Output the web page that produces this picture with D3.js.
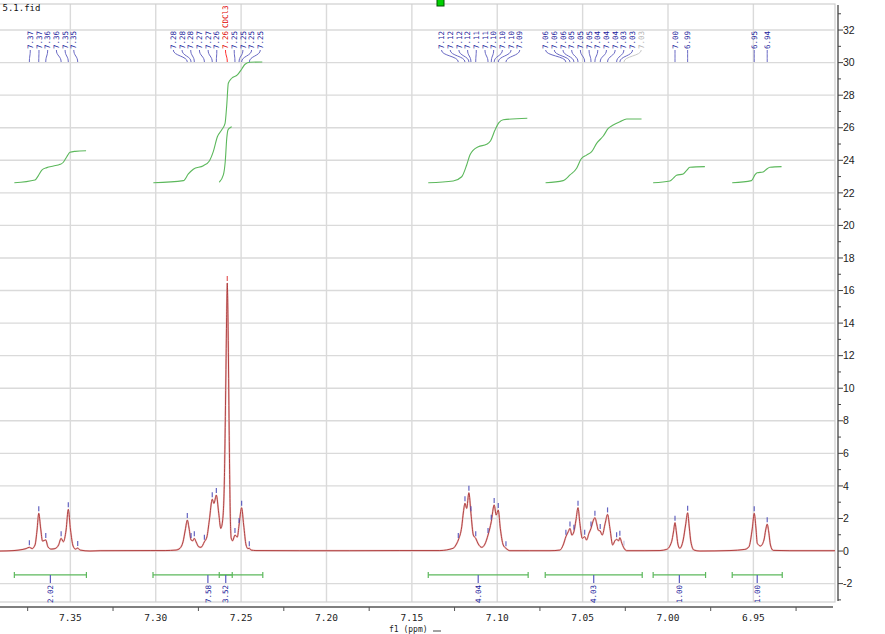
<!DOCTYPE html>
<html><head><meta charset="utf-8">
<script src="https://cdn.jsdelivr.net/npm/d3@7"></script>
<style>body{margin:0;background:#fff;overflow:hidden}svg{display:block}</style>
</head><body><svg id="c" width="885" height="634"></svg>
<script>
// ---- DATA ----
const fileName = "5.1.fid";
const xTickLabels = [7.35, 7.30, 7.25, 7.20, 7.15, 7.10, 7.05, 7.00, 6.95];
const xMinorTicks = [7.375, 7.325, 7.275, 7.225, 7.175, 7.125, 7.075, 7.025, 6.975, 6.925];
const yTickLabels = [-2, 0, 2, 4, 6, 8, 10, 12, 14, 16, 18, 20, 22, 24, 26, 28, 30, 32];
const yMinorTicks = [-3, -1, 1, 3, 5, 7, 9, 11, 13, 15, 17, 19, 21, 23, 25, 27, 29, 31, 33];

// spectrum: [ppm, intensity]
const spectrum = [[7.3912,0.0],[7.383,0.03],[7.3783,0.09],[7.3759,0.15],[7.374,0.23],[7.3724,0.15],[7.3707,0.37],[7.3695,1.29],[7.3685,2.32],[7.3674,1.41],[7.3663,0.61],[7.3644,0.68],[7.3631,0.25],[7.3613,0.12],[7.359,0.15],[7.3569,0.37],[7.3554,0.78],[7.3541,0.57],[7.3525,1.29],[7.3512,2.56],[7.3499,1.29],[7.3484,0.31],[7.347,0.12],[7.3457,0.18],[7.3443,0.06],[7.3385,0.0],[7.3326,0.02],[7.3033,0.03],[7.2945,0.03],[7.2881,0.06],[7.2858,0.17],[7.284,0.57],[7.2827,1.29],[7.2815,1.9],[7.2805,1.41],[7.2793,0.68],[7.2783,0.63],[7.2774,0.78],[7.2764,0.57],[7.2748,0.26],[7.2735,0.23],[7.2715,0.57],[7.27,0.88],[7.2686,1.9],[7.2669,3.18],[7.2659,2.93],[7.2645,3.44],[7.2631,2.32],[7.2619,1.39],[7.2608,1.9],[7.2598,4.36],[7.2591,9.28],[7.2585,14.19],[7.2581,16.46],[7.2576,13.57],[7.257,7.43],[7.2564,2.52],[7.2558,0.8],[7.255,0.63],[7.2536,0.98],[7.2522,0.86],[7.2512,1.6],[7.2497,2.66],[7.2485,1.6],[7.2471,0.37],[7.246,0.15],[7.2452,0.17],[7.2442,0.06],[7.2413,0.03],[7.2156,0.02],[7.1863,0.02],[7.157,0.03],[7.1336,0.03],[7.1258,0.17],[7.1242,0.37],[7.1228,0.68],[7.1208,1.49],[7.1198,2.4],[7.1189,2.93],[7.1179,2.62],[7.1166,3.58],[7.1154,2.32],[7.114,0.98],[7.1126,0.78],[7.1111,0.43],[7.1091,0.23],[7.1072,0.43],[7.1054,0.98],[7.1035,1.8],[7.1018,2.83],[7.1006,2.21],[7.0994,2.52],[7.0982,1.39],[7.0965,0.37],[7.0949,0.17],[7.0926,0.02],[7.0809,0.02],[7.0691,0.02],[7.0633,0.06],[7.0614,0.37],[7.0598,0.88],[7.0584,1.19],[7.0574,1.39],[7.0563,0.98],[7.0551,1.19],[7.0539,1.9],[7.0527,2.66],[7.0516,1.7],[7.0502,0.78],[7.0488,0.88],[7.0477,0.68],[7.0463,1.09],[7.0451,1.39],[7.044,1.8],[7.0428,2.05],[7.0416,1.6],[7.0409,1.29],[7.0397,1.23],[7.0385,0.98],[7.0368,1.7],[7.0354,2.25],[7.034,1.39],[7.0324,0.37],[7.0311,0.63],[7.0301,0.72],[7.0289,0.63],[7.0282,0.82],[7.027,0.47],[7.0259,0.2],[7.0242,0.02],[7.0135,0.02],[7.0047,0.03],[7.0008,0.1],[6.9979,0.57],[6.9968,1.17],[6.9959,1.74],[6.9951,1.17],[6.9942,0.43],[6.9931,0.17],[6.9911,0.68],[6.9897,1.6],[6.9885,2.35],[6.9875,1.41],[6.9866,0.57],[6.9848,0.06],[6.9813,0.0],[6.9637,0.03],[6.955,0.1],[6.9526,0.26],[6.9506,1.41],[6.9495,2.32],[6.9485,1.41],[6.9477,0.47],[6.9458,0.31],[6.9438,0.68],[6.9428,1.29],[6.9419,1.65],[6.941,1.17],[6.94,0.37],[6.9384,0.04],[6.9286,0.02],[6.9022,0.02]];

// picked peaks
const peakPpm = [7.374,7.3685,7.3644,7.3554,7.3512,7.3457,
  7.2815,7.2793,7.2774,7.2715,7.2669,7.2645,7.2581,7.2536,7.2512,7.2497,7.2452,
  7.1228,7.1189,7.1166,7.1154,7.1126,7.1054,7.1035,7.1018,7.0994,7.0949,
  7.0598,7.0574,7.0551,7.0527,7.0488,7.0451,7.0428,7.0397,7.0354,7.0301,7.0282,7.0258,
  6.9959,6.9885,6.9495,6.9419];
const peakInt = [0.23,2.32,0.68,0.78,2.56,0.18,
  1.9,0.68,0.78,0.57,3.18,3.44,16.46,0.98,1.6,2.66,0.17,
  0.68,2.93,3.58,2.32,0.78,0.98,1.8,2.83,2.52,0.17,
  0.88,1.39,1.19,2.66,0.88,1.39,2.05,1.23,2.25,0.72,0.82,0.2,
  1.74,2.35,2.32,1.65];
const peakLabels = ["7.37","7.37","7.36","7.36","7.35","7.35",
  "7.28","7.28","7.28","7.27","7.27","7.26","7.26","7.25","7.25","7.25","7.25",
  "7.12","7.12","7.12","7.12","7.11","7.11","7.10","7.10","7.10","7.09",
  "7.06","7.06","7.06","7.05","7.05","7.05","7.04","7.04","7.04","7.03","7.03","7.03",
  "7.00","6.99","6.95","6.94"];
const peakGroup = [1,1,1,1,1,1, 2,2,2,2,2,2,2,2,2,2,2, 3,3,3,3,3,3,3,3,3,3,
  4,4,4,4,4,4,4,4,4,4,4,4, 5,6,7,8];
const solventPeak = 12;           // index of the CDCl3 peak
const solventName = "CDCl3";
const faintPeak = 38;

// integrals
const integralFrom = [7.3828, 7.3016, 7.2628, 7.1404, 7.0719, 7.0087, 6.9624];
const integralTo   = [7.3406, 7.2373, 7.2552, 7.0819, 7.0151, 6.9780, 6.9331];
const integralValues = ["2.02", "7.58", "3.52", "4.04", "4.03", "1.00", "1.00"];

// integral curves [ppm, axis value]
const integralCurve1 = [[7.3828,22.62],[7.3707,22.79],[7.3689,23.03],[7.3667,23.4],[7.3638,23.55],[7.3599,23.65],[7.356,23.75],[7.3541,23.88],[7.3521,24.22],[7.3502,24.49],[7.3472,24.55],[7.3408,24.59]];
const integralCurve2 = [[7.3014,22.62],[7.2838,22.75],[7.2809,23.16],[7.278,23.45],[7.2721,23.67],[7.2686,23.96],[7.2663,24.53],[7.2639,25.45],[7.2614,25.86],[7.2594,26.27],[7.2584,27.4],[7.2575,28.73],[7.2555,29.04],[7.2522,29.24],[7.2496,29.61],[7.2477,29.9],[7.2448,30.02],[7.2376,30.04]];
const integralCurve3 = [[7.2628,22.65],[7.2604,23.1],[7.2593,23.91],[7.2584,25.35],[7.2577,25.86],[7.2565,26.0],[7.2555,26.06]];
const integralCurve4 = [[7.1404,22.62],[7.1258,22.73],[7.1208,22.99],[7.1179,23.71],[7.116,24.32],[7.114,24.63],[7.1111,24.83],[7.1062,24.98],[7.1039,25.2],[7.1013,25.86],[7.099,26.31],[7.0965,26.49],[7.0824,26.58]];
const integralCurve5 = [[7.0717,22.62],[7.0614,22.75],[7.0574,23.1],[7.0535,23.51],[7.051,24.06],[7.0477,24.32],[7.0447,24.53],[7.0418,25.04],[7.0379,25.49],[7.035,25.96],[7.0321,26.17],[7.0282,26.37],[7.0242,26.54],[7.0155,26.54]];
const integralCurve6 = [[7.0087,22.62],[6.9989,22.73],[6.997,22.89],[6.995,23.08],[6.9911,23.16],[6.9892,23.36],[6.9872,23.57],[6.9784,23.61]];
const integralCurve7 = [[6.9624,22.62],[6.9511,22.75],[6.9491,23.1],[6.9478,23.24],[6.9443,23.28],[6.9423,23.45],[6.9403,23.57],[6.9335,23.61]];
const integralCurves = [integralCurve1, integralCurve2, integralCurve3, integralCurve4, integralCurve5, integralCurve6, integralCurve7];

// ---- DRAW ----
const svg = d3.select("#c");
const plotL = 0, plotR = 835, plotT = 4, plotB = 602;
const x = d3.scaleLinear().domain([7.3912, 6.9022]).range([plotL, plotR]);
const y = d3.scaleLinear().domain([-3.13, 33.6]).range([plotB, plotT]);
const monoFont = "'DejaVu Sans Mono', 'Liberation Mono', monospace";

// grid
const grid = svg.append("g").attr("stroke", "#dadada").attr("stroke-width", 1.4);
grid.selectAll("line.v").data(xTickLabels).join("line")
  .attr("x1", d => x(d)).attr("x2", d => x(d)).attr("y1", plotT).attr("y2", plotB);
grid.selectAll("line.h").data(yTickLabels).join("line")
  .attr("x1", plotL).attr("x2", plotR).attr("y1", d => y(d)).attr("y2", d => y(d));

// frame
svg.append("rect").attr("x", plotL - 1).attr("y", plotT).attr("width", plotR - plotL + 1).attr("height", plotB - plotT)
  .attr("fill", "none").attr("stroke", "#cfcfcf").attr("stroke-width", 1.2);

// spectrum
const line = d3.line().x(d => x(d[0])).y(d => y(d[1])).curve(d3.curveMonotoneX);
svg.append("path").datum(spectrum).attr("d", line)
  .attr("fill", "none").attr("stroke", "#f0c4c4").attr("stroke-width", 1.8).attr("stroke-linejoin", "round");
svg.append("path").datum(spectrum).attr("d", line)
  .attr("fill", "none").attr("stroke", "#a83232").attr("stroke-width", 0.9).attr("stroke-linejoin", "round");

// integral curves
svg.append("g").selectAll("path").data(integralCurves).join("path")
  .attr("d", line).attr("fill", "none").attr("stroke", "#5cb85c").attr("stroke-width", 1.1);

// integral bars
const barY = y(-1.47);
const ig = svg.append("g");
integralValues.forEach((v, i) => {
  const x1 = x(integralFrom[i]), x2 = x(integralTo[i]), xm = (x1 + x2) / 2;
  ig.append("line").attr("x1", x1).attr("x2", x2).attr("y1", barY).attr("y2", barY)
    .attr("stroke", "#5cb85c").attr("stroke-width", 1.2);
  [x1, x2].forEach(xx => ig.append("line").attr("x1", xx).attr("x2", xx).attr("y1", barY - 3).attr("y2", barY + 3)
    .attr("stroke", "#5cb85c").attr("stroke-width", 1.2));
  ig.append("line").attr("x1", xm).attr("x2", xm).attr("y1", barY).attr("y2", barY + 8)
    .attr("stroke", "#5a5ac0").attr("stroke-width", 1.2);
  ig.append("text").attr("transform", `translate(${xm},${barY + 10}) rotate(-90)`)
    .attr("text-anchor", "end").attr("dy", "0.35em")
    .attr("font-family", monoFont).attr("font-size", 7.5).attr("fill", "#1a1a9a").text(v);
});

// peak markers
const pm = svg.append("g");
peakPpm.forEach((p, i) => {
  const px = x(p), py = y(peakInt[i]);
  pm.append("line").attr("x1", px).attr("x2", px).attr("y1", py - 2).attr("y2", py - 7)
    .attr("stroke", i === solventPeak ? "#e04040" : (i === faintPeak ? "#b8b8d8" : "#4a4ab8"))
    .attr("stroke-width", 1.2).attr("opacity", 0.85);
});

// peak labels
const labelX = new Array(peakPpm.length);
d3.group(d3.range(peakPpm.length), i => peakGroup[i]).forEach(idx => {
  const xs = idx.map(i => x(peakPpm[i]));
  const mid = (d3.min(xs) + d3.max(xs)) / 2 - 1.5;
  const n = idx.length, sp = 8.7;
  idx.forEach((i, k) => { labelX[i] = n === 1 ? x(peakPpm[i]) : mid + (k - (n - 1) / 2) * sp; });
});
const labTop = 50, labBot = 62;
const link = d3.linkVertical();
const lg = svg.append("g");
peakPpm.forEach((p, i) => {
  const px = x(p), lx = labelX[i];
  const col = i === solventPeak ? "#e00000" : (i === faintPeak ? "#b4b4b4" : "#1c1c9c");
  const lcol = i === solventPeak ? "#ff3030" : (i === faintPeak ? "#c8c8c8" : "#6a6ac4");
  lg.append("path").attr("d", link({source: [lx, labTop], target: [px, labBot]}))
    .attr("fill", "none").attr("stroke", lcol).attr("stroke-width", 1);
  lg.append("text").attr("transform", `translate(${lx},${labTop - 1}) rotate(-90)`)
    .attr("dy", "0.35em").attr("font-family", monoFont).attr("font-size", 7.5)
    .attr("fill", col).text(peakLabels[i]);
  if (i === solventPeak) {
    lg.append("text").attr("transform", `translate(${lx},${labTop - 22}) rotate(-90)`)
      .attr("dy", "0.35em").attr("font-family", monoFont).attr("font-size", 7.5)
      .attr("fill", col).text(solventName);
  }
});

// bottom axis
const axY = 607;
const bx = svg.append("g");
bx.append("line").attr("x1", 0).attr("x2", 833).attr("y1", axY).attr("y2", axY).attr("stroke", "#555").attr("stroke-width", 1.5);
bx.selectAll("line.t").data(xMinorTicks).join("line")
  .attr("x1", d => x(d)).attr("x2", d => x(d)).attr("y1", axY).attr("y2", axY + 4)
  .attr("stroke", "#555").attr("stroke-width", 1);
bx.selectAll("text").data(xTickLabels).join("text")
  .attr("x", d => x(d)).attr("y", 621).attr("text-anchor", "middle")
  .attr("font-family", monoFont).attr("font-size", 9.5).attr("fill", "#222")
  .text(d => d3.format(".2f")(d));
svg.append("text").attr("x", 389).attr("y", 632).attr("font-family", monoFont).attr("font-size", 8)
  .attr("fill", "#222").text("f1 (ppm)");
svg.append("line").attr("x1", 433).attr("x2", 441).attr("y1", 631).attr("y2", 631).attr("stroke", "#444").attr("stroke-width", 1);

// right axis
const axX = 838;
const ry = svg.append("g");
ry.append("line").attr("x1", axX).attr("x2", axX).attr("y1", plotT + 1).attr("y2", plotB - 1).attr("stroke", "#444").attr("stroke-width", 1.3);
ry.selectAll("line.maj").data(yTickLabels).join("line")
  .attr("x1", axX).attr("x2", axX + 5).attr("y1", d => y(d)).attr("y2", d => y(d)).attr("stroke", "#444");
ry.selectAll("line.min").data(yMinorTicks).join("line")
  .attr("x1", axX).attr("x2", axX + 3).attr("y1", d => y(d)).attr("y2", d => y(d)).attr("stroke", "#444");
ry.selectAll("text").data(yTickLabels).join("text")
  .attr("x", axX + 5).attr("y", d => y(d)).attr("dy", "0.35em")
  .attr("font-family", "'Liberation Sans', Arial, sans-serif").attr("font-size", 10.5).attr("fill", "#222")
  .text(d => (d < 0 ? "-" : "") + Math.abs(d));

// title & marker square
svg.append("text").attr("x", 2.5).attr("y", 11).attr("font-family", monoFont).attr("font-size", 9)
  .attr("fill", "#111").text(fileName);
svg.append("rect").attr("x", 437).attr("y", -1).attr("width", 7).attr("height", 7)
  .attr("fill", "#00d000").attr("stroke", "#005500").attr("stroke-width", 1);
</script>
</body></html>
